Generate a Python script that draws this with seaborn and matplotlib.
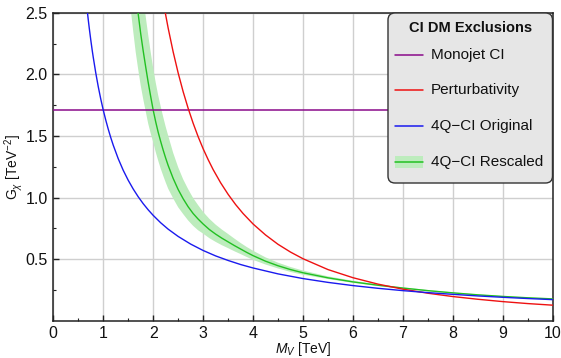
import numpy as np
import pandas as pd
import matplotlib
matplotlib.use("Agg")
import matplotlib.pyplot as plt
from matplotlib.lines import Line2D
from matplotlib.patches import FancyBboxPatch, Rectangle
from matplotlib.transforms import IdentityTransform
import seaborn as sns

# ---------------- data ----------------
monojet_level = 1.71

orig_M = [0.68, 0.70, 0.72, 0.75, 0.78, 0.80, 0.85, 0.90, 0.95, 1.0, 1.05, 1.1, 1.15, 1.2,
          1.3, 1.4, 1.5, 1.6, 1.7, 1.8, 1.9, 2.0, 2.15, 2.3, 2.5, 2.75, 3.0, 3.25, 3.5,
          3.75, 4.0, 4.5, 5.0, 5.5, 6.0, 6.5, 7.0, 7.5, 8.0, 8.5, 9.0, 9.5, 10.0]
orig_G = [2.515, 2.443, 2.375, 2.28, 2.192, 2.138, 2.012, 1.90, 1.80, 1.71, 1.629, 1.555,
          1.487, 1.425, 1.315, 1.221, 1.14, 1.069, 1.006, 0.95, 0.90, 0.855, 0.795, 0.743,
          0.684, 0.622, 0.57, 0.526, 0.489, 0.456, 0.428, 0.38, 0.342, 0.311, 0.285, 0.263,
          0.244, 0.228, 0.214, 0.201, 0.19, 0.18, 0.171]

pert_M = [2.24, 2.3, 2.4, 2.5, 2.6, 2.7, 2.8, 2.9, 3.0, 3.1, 3.2, 3.35, 3.5, 3.65, 3.8,
          4.0, 4.25, 4.5, 4.75, 5.0, 5.5, 6.0, 6.5, 7.0, 7.5, 8.0, 8.5, 9.0, 9.5, 10.0]
pert_G = [2.504, 2.375, 2.182, 2.011, 1.859, 1.724, 1.603, 1.494, 1.396, 1.308, 1.227,
          1.120, 1.026, 0.943, 0.870, 0.785, 0.696, 0.620, 0.557, 0.503, 0.415, 0.349,
          0.297, 0.256, 0.223, 0.196, 0.174, 0.155, 0.139, 0.126]

resc_M = [1.55, 1.60, 1.65, 1.70, 1.75, 1.80, 1.85, 1.90, 1.95, 2.00, 2.05, 2.10, 2.15,
          2.20, 2.25, 2.30, 2.40, 2.50, 2.60, 2.70, 2.80, 2.90, 3.00, 3.125, 3.25, 3.375,
          3.50, 3.625, 3.75, 3.875, 4.00, 4.25, 4.50, 4.75, 5.00, 5.50, 6.00, 6.50, 7.00,
          7.50, 8.00, 8.50, 9.00, 9.50, 10.0]
resc_G = [3.08, 2.86, 2.66, 2.49, 2.33, 2.19, 2.06, 1.935, 1.82, 1.71, 1.615, 1.53, 1.455,
          1.385, 1.32, 1.26, 1.155, 1.065, 0.99, 0.925, 0.87, 0.825, 0.785, 0.74, 0.703,
          0.67, 0.64, 0.61, 0.582, 0.554, 0.528, 0.483, 0.446, 0.415, 0.389, 0.348, 0.315,
          0.288, 0.265, 0.244, 0.226, 0.210, 0.197, 0.186, 0.177]
resc_hi = [3.70, 3.43, 3.19, 2.99, 2.80, 2.63, 2.47, 2.32, 2.18, 2.05, 1.935, 1.83, 1.74,
           1.655, 1.575, 1.503, 1.363, 1.246, 1.148, 1.068, 0.996, 0.938, 0.883, 0.827,
           0.780, 0.740, 0.704, 0.667, 0.631, 0.598, 0.568, 0.514, 0.471, 0.436, 0.407,
           0.360, 0.324, 0.295, 0.271, 0.249, 0.230, 0.213, 0.200, 0.188, 0.179]
resc_lo = [2.53, 2.35, 2.18, 2.04, 1.91, 1.80, 1.70, 1.60, 1.52, 1.45, 1.37, 1.30, 1.235,
           1.178, 1.123, 1.072, 0.993, 0.921, 0.866, 0.814, 0.770, 0.734, 0.707, 0.670,
           0.640, 0.613, 0.589, 0.564, 0.541, 0.517, 0.494, 0.456, 0.424, 0.396, 0.373,
           0.338, 0.307, 0.281, 0.259, 0.239, 0.222, 0.207, 0.194, 0.184, 0.175]

labels = ["Monojet CI", "Perturbativity", "4Q\u2212CI Original", "4Q\u2212CI Rescaled"]
legend_title = "CI DM Exclusions"

# ---------------- style ----------------
sns.set_theme(style="white")
plt.rcParams["font.family"] = ["Liberation Sans", "DejaVu Sans"]
plt.rcParams["mathtext.fontset"] = "custom"
plt.rcParams["mathtext.it"] = "Liberation Sans:italic"
plt.rcParams["mathtext.rm"] = "Liberation Sans"
plt.rcParams["mathtext.bf"] = "Liberation Sans:bold"

c_purple = "#8a0a8a"
c_red = "#ee1111"
c_blue = "#1a1aee"
c_green = "#22c022"
c_band = "#bdecbd"

W, H = 561, 358
fig = plt.figure(figsize=(W / 100, H / 100), dpi=100)
ax_l, ax_r, ax_t, ax_b = 53.3, 552.7, 12.7, 320.7
ax = fig.add_axes([ax_l / W, 1 - ax_b / H, (ax_r - ax_l) / W, (ax_b - ax_t) / H])

df_orig = pd.DataFrame({"M": orig_M, "G": orig_G})
df_pert = pd.DataFrame({"M": pert_M, "G": pert_G})
df_resc = pd.DataFrame({"M": resc_M, "G": resc_G, "lo": resc_lo, "hi": resc_hi})

ax.fill_between(df_resc["M"], df_resc["lo"], df_resc["hi"], color=c_band, lw=0, zorder=2)
sns.lineplot(data=df_resc, x="M", y="G", ax=ax, color=c_green, lw=1.0, sort=False,
             estimator=None, zorder=3)
ax.axhline(monojet_level, color=c_purple, lw=1.1, zorder=3)
sns.lineplot(data=df_pert, x="M", y="G", ax=ax, color=c_red, lw=1.0, sort=False,
             estimator=None, zorder=3)
sns.lineplot(data=df_orig, x="M", y="G", ax=ax, color=c_blue, lw=1.0, sort=False,
             estimator=None, zorder=3)

ax.set_xlim(0, 10)
ax.set_ylim(0, 2.5)
ax.set_xticks(range(0, 11))
ax.set_xticks(np.arange(0.5, 10, 1.0), minor=True)
ax.set_yticks([0.5, 1.0, 1.5, 2.0, 2.5])
ax.set_yticklabels(["0.5", "1.0", "1.5", "2.0", "2.5"])
ax.set_yticks([0.25, 0.75, 1.25, 1.75, 2.25], minor=True)

ax.grid(True, which="major", color="#cfcfcf", lw=1.0, zorder=0)
ax.set_axisbelow(True)
ax.tick_params(axis="both", which="major", direction="in", length=4.5, width=1.0,
               labelsize=11.5, color="#222222", labelcolor="#111111", pad=4,
               bottom=True, left=True, top=False, right=False)
ax.tick_params(axis="both", which="minor", direction="in", length=2.5, width=0.8,
               color="#222222", bottom=True, left=True, top=False, right=False)
for s in ax.spines.values():
    s.set_color("#222222")
    s.set_linewidth(1.1)

ax.set_xlabel(r"$M_V$ [TeV]", fontsize=10, color="#111111", va="center")
ax.xaxis.set_label_coords(0.5, (ax_b - 349) / (ax_b - ax_t))
ax.set_ylabel(r"G$_\chi$ [TeV$^{-2}$]", fontsize=10, color="#111111", va="center")
ax.yaxis.set_label_coords((14 - ax_l) / (ax_r - ax_l), 0.5)

# ---------------- legend (drawn in pixel coordinates) ----------------
T = IdentityTransform()
def py(y):
    return H - y

box_l, box_r, box_t, box_b = 388, 552.5, 13, 183
frame = FancyBboxPatch((box_l, py(box_b)), box_r - box_l, box_b - box_t,
                       boxstyle="round,pad=0,rounding_size=7", transform=T,
                       facecolor="#e6e6e6", edgecolor="#333333", lw=1.0, zorder=10)
fig.add_artist(frame)
fig.text((box_l + box_r) / 2 / W, 1 - 27.5 / H, legend_title, ha="center", va="center",
         fontsize=10.5, fontweight="bold", color="#111111", zorder=11)
entry_y = [55, 90, 126, 162]
entry_c = [c_purple, c_red, c_blue, c_green]
for yy, col, lab in zip(entry_y, entry_c, labels):
    if lab == labels[3]:
        fig.add_artist(Rectangle((395, py(yy) - 6), 28, 12, transform=T,
                                 facecolor=c_band, edgecolor="none", zorder=11))
    fig.add_artist(Line2D([395, 423], [py(yy), py(yy)], transform=T, color=col,
                          lw=1.1, zorder=12))
    fig.text(431 / W, 1 - yy / H, lab, ha="left", va="center", fontsize=11,
             color="#111111", zorder=12)

fig.savefig("out.png", dpi=100)
